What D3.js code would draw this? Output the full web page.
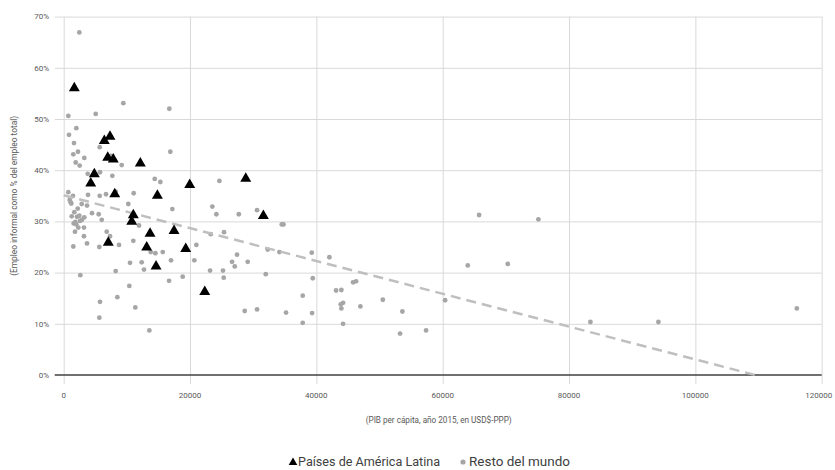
<!DOCTYPE html>
<html><head><meta charset="utf-8">
<script src="https://cdn.jsdelivr.net/npm/d3@7/dist/d3.min.js"></script>
<style>
html,body{margin:0;padding:0;background:#fff;}
svg{display:block;font-family:Roboto,"Noto Sans",sans-serif;}
</style></head>
<body>
<svg id="chart" width="835" height="470"></svg>
<script>
// ---- data (GDP per capita USD-PPP 2015, informal employment %) ----
const latamGDP = [1680,7330,6430,6970,7850,12130,4850,4280,19950,28820,8080,14830,11020,10770,31610,13670,17470,7060,13140,19320,14620,22330];
const latamInf = [56.2,46.7,45.9,42.6,42.3,41.5,39.4,37.6,37.3,38.5,35.5,35.2,31.4,30.1,31.25,27.8,28.3,26.0,25.1,24.8,21.4,16.4];

const worldGDP = [2470,730,5070,9440,16720,2000,840,1630,5700,16880,2260,1520,3260,7490,1900,2530,9180,3800,5750,7700,14410,15300,24650,
  730,1470,3850,5700,6700,8230,11080,950,1110,10230,23530,30610,
  2850,3690,2220,17200,24170,27720,4480,5540,1270,2110,3260,6020,2580,1580,2000,11920,34520,34800,2310,3210,1790,6810,23280,25380,7330,3210,
  3690,8760,1520,5640,11020,21000,13770,14510,15680,27440,32300,34140,16990,20680,26650,29130,10500,12350,27080,12710,8230,23170,25220,31990,
  2630,18840,25330,16680,10390,8490,5750,11340,28660,30610,35200,5640,13560,
  39270,42060,39430,37840,43120,43960,45810,46290,43860,44230,43960,46970,50520,53620,39320,37840,44230,53250,57370,60380,63970,65760,70300,75150,
  83390,94150,116060,1200,1680,2470,2900,1840];
const worldInf = [66.9,50.6,51.0,53.1,52.0,48.2,46.9,45.3,44.5,43.6,43.6,43.1,42.4,42.8,41.5,40.9,41.0,39.3,39.6,38.9,38.3,37.7,37.9,
  35.7,35.0,35.2,35.0,35.3,35.8,35.5,34.2,33.7,33.4,32.9,32.2,
  33.4,33.1,32.5,32.4,31.4,31.4,31.6,31.4,31.0,30.9,30.8,30.3,30.1,29.6,29.4,29.2,29.4,29.4,28.8,28.8,28.0,28.0,27.5,27.9,27.1,27.1,
  25.7,25.4,25.1,25.0,26.2,25.4,24.0,23.8,24.0,23.5,24.5,24.0,22.4,22.4,22.1,22.1,21.9,22.0,21.2,20.6,20.3,20.4,20.4,19.7,
  19.5,19.2,19.0,18.4,17.4,15.2,14.3,13.2,12.5,12.8,12.2,11.2,8.7,
  23.9,23.0,18.9,15.5,16.5,16.6,18.1,18.3,13.8,14.1,13.0,13.4,14.7,12.4,12.1,10.2,10.0,8.1,8.7,14.6,21.4,31.25,21.7,30.4,
  10.35,10.35,13.0,33.5,31.8,31.1,30.3,29.9];

// trend line end points
const trendGDP = [0, 109470];
const trendInf = [35.1, 0];

const xTicks = [0,20000,40000,60000,80000,100000,120000];
const yTicks = [0,10,20,30,40,50,60,70];

const legendLabels = ["Países de América Latina","Resto del mundo"];
const xTitle = "(PIB per cápita, año 2015, en USD$-PPP)";
const yTitle = "(Empleo informal como % del empleo total)";

// ---- layout ----
const svg = d3.select("#chart");
const L = 63.7, R = 821.7, T = 16.6, B = 375;
const x = d3.scaleLinear().domain([0,120000]).range([L,R]);
const y = d3.scaleLinear().domain([0,70]).range([B,T]);

// gridlines via axes
const gx = svg.append("g").attr("transform",`translate(0,${T})`)
  .call(d3.axisBottom(x).tickValues(xTicks).tickSize(B-T+9).tickFormat(""));
gx.select(".domain").remove();
gx.selectAll("line").attr("stroke","#d9d9d9").attr("stroke-width",1);

const gy = svg.append("g").attr("transform",`translate(${R},0)`)
  .call(d3.axisLeft(y).tickValues(yTicks.filter(d=>d>0)).tickSize(R-L+9).tickFormat(""));
gy.select(".domain").remove();
gy.selectAll("line").attr("stroke","#d9d9d9").attr("stroke-width",1);

// zero line
svg.append("line").attr("x1",L-9).attr("x2",R).attr("y1",y(0)).attr("y2",y(0))
  .attr("stroke","#404040").attr("stroke-width",1.3);

// tick labels
svg.append("g").selectAll("text").data(yTicks).join("text")
  .attr("x",49).attr("y",d=>y(d)).attr("dy","0.35em")
  .attr("text-anchor","end").attr("font-size",8).attr("fill","#595959")
  .text(d=>d+"%");
svg.append("g").selectAll("text").data(xTicks).join("text")
  .attr("x",d=>d===120000 ? x(d)-3 : x(d)).attr("y",398)
  .attr("text-anchor","middle").attr("font-size",8).attr("fill","#595959")
  .text(d=>d);

// axis titles
svg.append("text").attr("x",(L+R)/2-4).attr("y",423).attr("text-anchor","middle")
  .attr("font-size",8.5).attr("fill","#595959")
  .attr("textLength",146).attr("lengthAdjust","spacingAndGlyphs").text(xTitle);
svg.append("text").attr("transform",`translate(17,${(T+B)/2}) rotate(-90)`)
  .attr("text-anchor","middle").attr("font-size",8.5).attr("fill","#595959")
  .attr("textLength",160).attr("lengthAdjust","spacingAndGlyphs").text(yTitle);

// world dots
const world = worldGDP.map((g,i)=>({g, v:worldInf[i]}));
svg.append("g").selectAll("circle").data(world).join("circle")
  .attr("cx",d=>x(d.g)).attr("cy",d=>y(d.v)).attr("r",2.4).attr("fill","#a6a6a6");

// trend line
svg.append("path").datum(trendGDP.map((g,i)=>[g,trendInf[i]]))
  .attr("d",d3.line().x(d=>x(d[0])).y(d=>y(d[1])))
  .attr("fill","none").attr("stroke","#bfbfbf").attr("stroke-width",2.5)
  .attr("stroke-dasharray","10,6");

// latam triangles
const latam = latamGDP.map((g,i)=>({g, v:latamInf[i]}));
const tri = d3.symbol().type(d3.symbolTriangle).size(52);
svg.append("g").selectAll("path").data(latam).join("path")
  .attr("transform",d=>`translate(${x(d.g)},${y(d.v)+0.8})`)
  .attr("d",tri).attr("fill","#000");

// legend
const lg = svg.append("g");
lg.append("path").attr("transform","translate(293,462.5)")
  .attr("d",d3.symbol().type(d3.symbolTriangle).size(32)).attr("fill","#000");
lg.append("text").attr("x",298).attr("y",466.3)
  .attr("font-size",12).attr("fill","#404040")
  .attr("textLength",142).attr("lengthAdjust","spacingAndGlyphs").text(legendLabels[0]);
lg.append("circle").attr("cx",463).attr("cy",462).attr("r",2.6).attr("fill","#a6a6a6");
lg.append("text").attr("x",469).attr("y",466.3)
  .attr("font-size",12).attr("fill","#404040")
  .attr("textLength",101).attr("lengthAdjust","spacingAndGlyphs").text(legendLabels[1]);
</script>
</body></html>
